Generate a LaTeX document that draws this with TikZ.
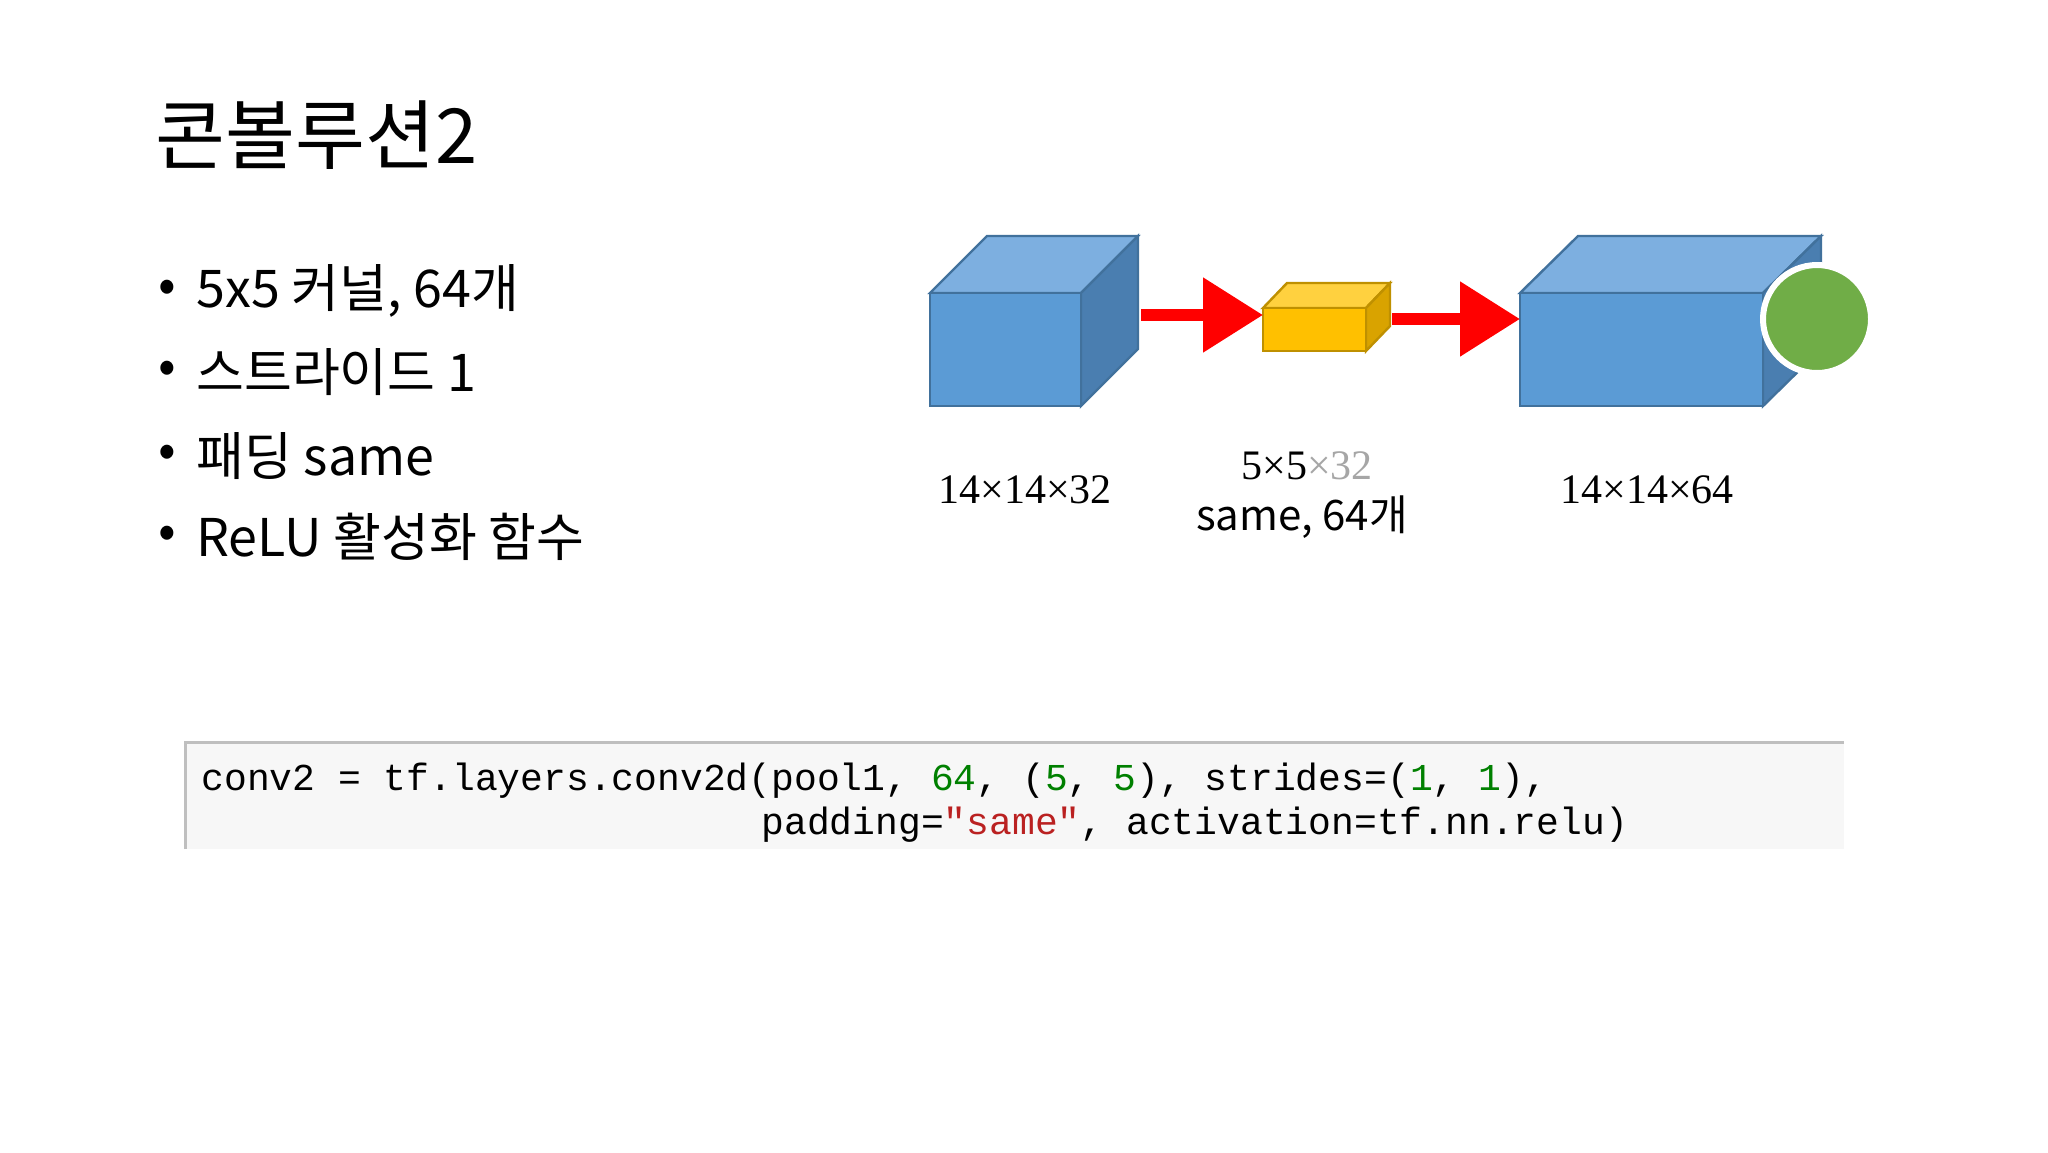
\documentclass[tikz,border=0pt]{standalone}
\usepackage{fontspec}
\setmainfont{Liberation Serif}
\newfontfamily\kr{Noto Sans CJK KR}
\newfontfamily\cmono{Liberation Mono}
\definecolor{bfront}{HTML}{5B9BD5}
\definecolor{btop}{HTML}{7DAFE0}
\definecolor{bside}{HTML}{4A7EB0}
\definecolor{bedge}{HTML}{41719C}
\definecolor{yfront}{HTML}{FFC000}
\definecolor{ytop}{HTML}{FFD13F}
\definecolor{yside}{HTML}{D9A300}
\definecolor{yedge}{HTML}{BF9000}
\definecolor{cgreen}{HTML}{70AD47}
\definecolor{codegreen}{HTML}{008000}
\definecolor{codered}{HTML}{BA2121}
\definecolor{codebg}{HTML}{F7F7F7}
\usetikzlibrary{arrows.meta}
\tikzset{
  redarrow/.style={draw=red, line width=6, -{Triangle[length=30,width=36]}},
  lbl/.style={inner sep=0, anchor=center, font=\fontsize{21}{25}\selectfont},
  bul/.style={inner sep=0, anchor=west, font=\kr\fontsize{26}{30}\selectfont},
  codeline/.style={inner sep=0, anchor=west, font=\cmono\fontsize{19}{22}\selectfont}
}
\newcommand{\mycube}[8]{% x1 y1 x2 y2 dx dy front/top/side prefix
  \fill[#7top, draw=#7edge, line width=1.2] (#1,#2) -- ++(#5,-#6) -- (#3+#5,#2-#6) -- (#3,#2) -- cycle;
  \fill[#7side, draw=#7edge, line width=1.2] (#3,#2) -- (#3+#5,#2-#6) -- (#3+#5,#4-#6) -- (#3,#4) -- cycle;
  \fill[#7front, draw=#7edge, line width=1.2] (#1,#2) rectangle (#3,#4);
}
\begin{document}
\begin{tikzpicture}[x=0.5pt,y=-0.5pt]
\useasboundingbox (0,0) rectangle (2048,1152);
\fill[white] (0,0) rectangle (2048,1152);
% title
\node[inner sep=0, anchor=west, font=\kr\fontsize{38}{44}\selectfont] (title) at (155,135) {콘볼루션2};
% bullets
\foreach \yy/\tx [count=\i] in {291/{5x5 커널, 64개}, 372/{스트라이드 1}, 456/{패딩 same}, 537/{ReLU 활성화 함수}} {
  \node[bul] (d\i) at (158,\yy) {•};
  \node[bul] (b\i) at (196,\yy) {\tx};
}
% cubes
\mycube{930}{293}{1081}{406}{57}{57}{b}{}
\mycube{1263}{308}{1366}{351}{24}{25}{y}{}
\mycube{1520}{293}{1763}{406}{58}{57}{b}{}
\coordinate (c1) at (1141,315);
\coordinate (k1) at (1263,315);
\coordinate (k2) at (1392,319);
\coordinate (c3) at (1520,319);
\node[circle, fill=cgreen, draw=white, line width=3, minimum size=54, inner sep=0] (dot) at (1817,319) {};
\draw[redarrow] (c1) -- (k1);
\draw[redarrow] (k2) -- (c3);
% labels
\node[lbl] (l1) at (1025,490) {14×14×32};
\node[lbl] (l2) at (1307,466) {5×5\textcolor{gray!70}{×32}};
\node[lbl, font=\kr\fontsize{21}{25}\selectfont] (l3) at (1302,517) {same, 64개};
\node[lbl] (l4) at (1647,490) {14×14×64};
% code box
\fill[codebg] (185,742) rectangle (1844,849);
\draw[gray!50, line width=1.5] (185,849) -- (185,742) -- (1844,742);
\node[codeline] (code1) at (201,781) {conv2 = tf.layers.conv2d(pool1, \textcolor{codegreen}{64}, (\textcolor{codegreen}{5}, \textcolor{codegreen}{5}), strides=(\textcolor{codegreen}{1}, \textcolor{codegreen}{1}),};
\node[codeline] (code2) at (761,825) {padding=\textcolor{codered}{"same"}, activation=tf.nn.relu)};
\end{tikzpicture}
\end{document}
